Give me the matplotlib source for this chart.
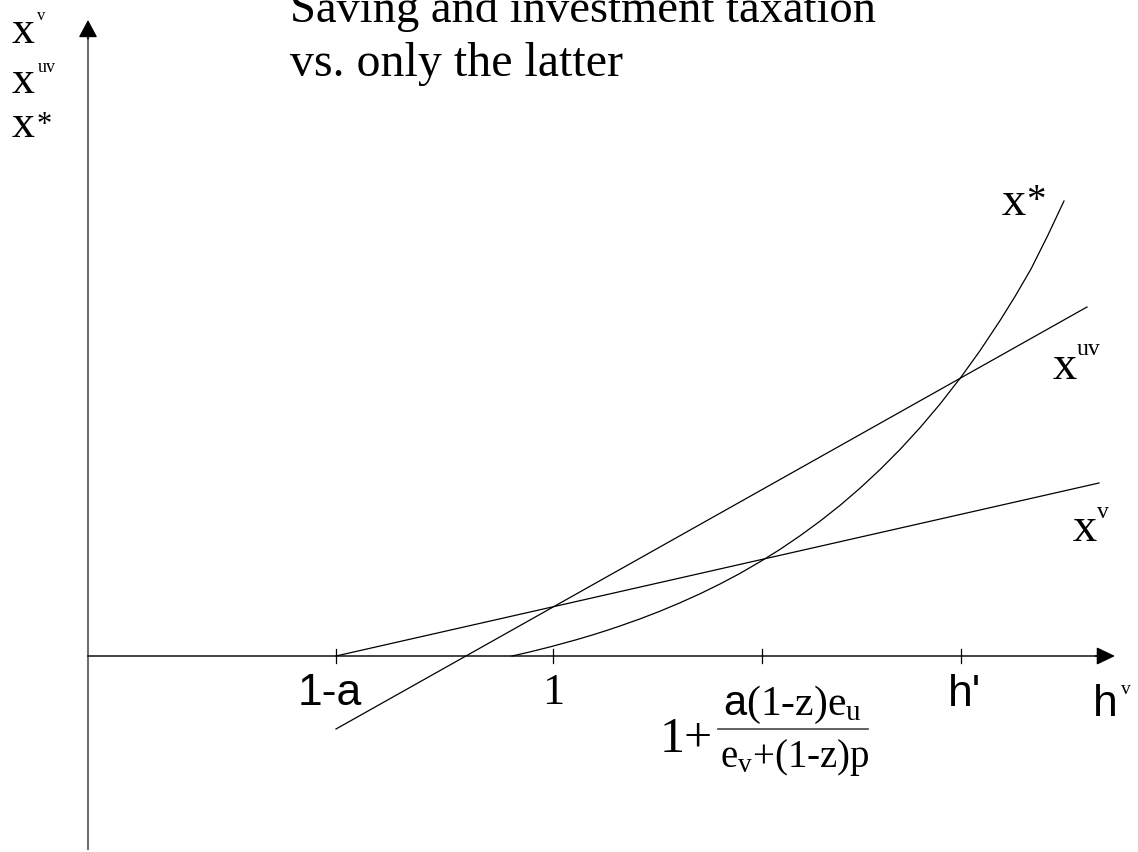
import matplotlib.pyplot as plt

plt.rcParams["mathtext.fontset"] = "custom"
plt.rcParams["mathtext.rm"] = "Liberation Serif"
plt.rcParams["mathtext.it"] = "Liberation Serif:italic"
plt.rcParams["mathtext.sf"] = "Liberation Sans"

SERIF = "Liberation Serif"
SANS = "Liberation Sans"

# horizontal positions along the h^v axis, heights above it (drawing units)
TICK_POS = [336, 553, 762, 961]

XV_X = [336, 1099]
XV_Y = [0, 173]

XUV_X = [336, 1087]
XUV_Y = [-73, 349]

XSTAR_X = [512, 520, 530, 540, 550, 560, 575, 590, 605, 620, 640, 660, 680,
           700, 720, 740, 762, 780, 800, 820, 840, 860, 880, 900, 920, 940,
           961, 980, 1000, 1015, 1031, 1048, 1064]
XSTAR_Y = [0, 1.8, 4.1, 6.6, 9.1, 11.8, 15.9, 20.3, 25.0, 30.0, 37.1, 44.8,
           53.2, 62.2, 72.0, 82.6, 95.4, 106.6, 120.2, 134.8, 150.6, 167.8,
           186.4, 206.5, 228.3, 251.9, 278.9, 305.3, 335.4, 359.5, 387,
           421, 455]

W, H = 1138, 853
AXIS_Y = 657          # pixel row of the h^v axis
AXIS_X = 88           # pixel column of the vertical axis


def py(row):
    """pixel row -> height above h^v axis"""
    return AXIS_Y - row


def label(ax, x, row, s, size, family=SERIF, ha="left"):
    ax.text(x, py(row), s, fontsize=size, family=family, ha=ha, va="baseline",
            color="black")


fig = plt.figure(figsize=(W / 100, H / 100), dpi=100)
ax = fig.add_axes([0, 0, 1, 1])
ax.set_xlim(0, W)
ax.set_ylim(py(H), py(0))
ax.axis("off")

# axes with arrow heads
ax.plot([AXIS_X, AXIS_X], [py(850), py(36)], color="#707070", lw=1.5)
ax.annotate("", xy=(AXIS_X, py(21)), xytext=(AXIS_X, py(40)),
            arrowprops=dict(arrowstyle="-|>,head_length=1.08,head_width=0.58",
                            mutation_scale=10, color="black", lw=1.0,
                            shrinkA=0, shrinkB=0))
ax.plot([AXIS_X, 1100], [0, 0], color="#222222", lw=1.2)
ax.annotate("", xy=(1115, 0), xytext=(1095, 0),
            arrowprops=dict(arrowstyle="-|>,head_length=1.15,head_width=0.55",
                            mutation_scale=10, color="black", lw=1.0,
                            shrinkA=0, shrinkB=0))

for t in TICK_POS:
    ax.plot([t, t], [-7, 7], color="black", lw=0.9)

# the three schedules
ax.plot(XV_X, XV_Y, color="black", lw=0.9)
ax.plot(XUV_X, XUV_Y, color="black", lw=0.9)
ax.plot(XSTAR_X, XSTAR_Y, color="black", lw=0.9)

# title (top line runs off the top edge, as in the source)
label(ax, 290, 22, "Saving and investment taxation", 33.5)
label(ax, 290, 76, "vs. only the latter", 34.5)

# vertical axis labels
label(ax, 12, 43, "x", 33)
label(ax, 37, 20, "v", 12)
label(ax, 12, 93, "x", 33)
label(ax, 38, 72, "uv", 13)
label(ax, 12, 137, "x", 33)
label(ax, 37, 133, "*", 22)

# curve labels
label(ax, 1002, 215, "x", 35)
label(ax, 1026, 211, "*", 28)
label(ax, 1053, 379, "x", 35)
label(ax, 1077, 355, "uv", 17)
label(ax, 1073, 541, "x", 35)
label(ax, 1097, 518, "v", 17)

# tick labels
label(ax, 330, 705, "1-a", 32, family=SANS, ha="center")
label(ax, 553, 704, "1", 32, ha="center")
label(ax, 948, 706, "h'", 32, family=SANS)
label(ax, 1093, 716, "h", 32, family=SANS)
label(ax, 1121, 694, "v", 14)

label(ax, 660, 752, "1+", 36)
ax.plot([718, 868], [py(730), py(730)], color="#555555", lw=1.3)
label(ax, 792, 715, r"$\mathsf{a}$(1-z)e$_\mathrm{u}$", 30, ha="center")
label(ax, 795, 767, r"e$_\mathrm{v}$+(1-z)p", 28, ha="center")

fig.savefig("out.png", dpi=100)
